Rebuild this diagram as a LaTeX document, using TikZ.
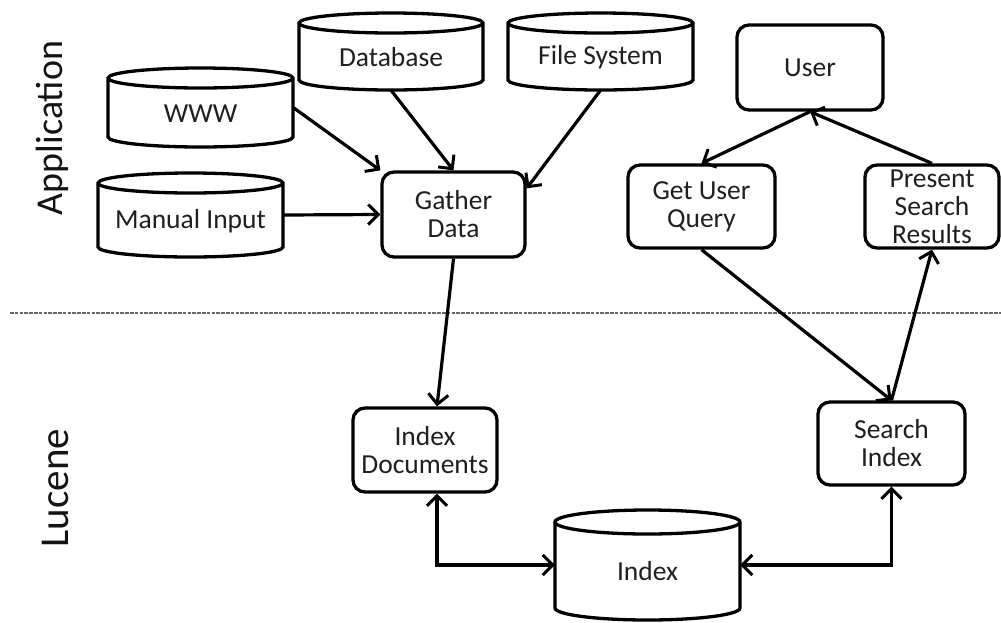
\documentclass[tikz,border=0pt]{standalone}
\usepackage{fontspec}
\setmainfont{Carlito}
\usetikzlibrary{arrows.meta,calc}
\newcommand\cyl[7]{%
  \pgfmathsetmacro\cxa{(#2+#4)/2}%
  \pgfmathsetmacro\cya{(#3+#5)/2}%
  \pgfmathsetmacro\rxa{(#4-#2)/2}%
  \pgfmathsetmacro\wa{#4-#2}%
  \pgfmathsetmacro\ha{#5-#3}%
  \path[cylline] (#2,#3+#6) -- (#2,#5-#6) arc[start angle=180,end angle=0,x radius=\rxa,y radius=#6] -- (#4,#3+#6) arc[start angle=0,end angle=-180,x radius=\rxa,y radius=#6] -- cycle;
  \draw[cylline,fill=none] (#2,#3+#6) arc[start angle=180,end angle=0,x radius=\rxa,y radius=#6];
  \node[inner sep=0pt,minimum width=\wa pt,minimum height=\ha pt] (#1) at (\cxa,\cya) {};
  \node[lbl] (#1-t) at (\cxa,\cya+6) {#7};
}
\begin{document}
\begin{tikzpicture}[x=1pt,y=-1pt,
  lbl/.style={font=\fontsize{27.5}{28}\selectfont,align=center,text=black!88},
  box/.style={draw,line width=3.3pt,rounded corners=12pt,fill=white,inner sep=0pt,lbl},
  cylline/.style={draw,line width=3.3pt,fill=white},
  tip/.style={},
  conn/.style={line width=3.2pt,-{Straight Barb[length=10pt,width=20pt,line width=3pt]}},
  conn2/.style={line width=3.2pt,{Straight Barb[length=10pt,width=20pt,line width=3pt]}-{Straight Barb[length=10pt,width=20pt,line width=3pt]}},
  side/.style={rotate=90,text=black!92},
  sep/.style={draw=black!60,line width=2.4pt,dash pattern=on 3.5pt off 1.3pt}]
\useasboundingbox (0,0) rectangle (1001,622);
\fill[white] (0,0) rectangle (1001,622);
% separator
\coordinate (sepL) at (10,313);
\coordinate (sepR) at (1001,313);
\draw[sep] (sepL) -- (sepR);
% side labels
\node[side,font=\fontsize{38}{40}\selectfont] (app) at (52,128) {Application};
\node[side,font=\fontsize{41}{43}\selectfont] (luc) at (55,488) {Lucene};
% cylinders
\cyl{www}{108}{68}{293}{147}{10}{WWW}
\cyl{db}{299}{13}{483}{90}{10}{Database}
\cyl{fs}{508}{13}{693}{90}{10}{File System}
\cyl{manual}{98}{173}{283}{257}{10}{Manual Input}
\cyl{index}{555}{510}{740}{620}{12}{Index}
% boxes
\node[box,minimum width=143pt,minimum height=85pt] (gather) at (453.5,214.5) {Gather\\Data};
\node[box,minimum width=146pt,minimum height=85pt] (user) at (810,67.5) {User};
\node[box,minimum width=147pt,minimum height=83pt] (gq) at (701.5,206.5) {Get User\\Query};
\node[box,minimum width=134pt,minimum height=83pt] (pr) at (932,206.5) {};
\node[lbl] (pr-t) at (932,207) {Present\\Search\\Results};
\node[box,minimum width=144pt,minimum height=84pt] (idoc) at (425,450) {Index\\Documents};
\node[box,minimum width=147pt,minimum height=83pt] (si) at (891.5,443.5) {Search\\Index};
% connectors
\draw[conn] (www.east) -- (gather.north west);
\draw[conn] (db.south) -- (gather.north);
\draw[conn] (fs.south) -- ([yshift=-18pt]gather.north east);
\draw[conn] (manual.east) -- (gather.west);
\draw[conn] (gather.south) -- ([xshift=12pt]idoc.north);
\draw[conn] (user.south) -- (gq.north);
\draw[conn] (pr.north) -- (user.south);
\draw[conn] (gq.south) -- (si.north);
\draw[conn] (si.north) -- (pr.south);
\draw[conn2] ([xshift=12pt]idoc.south) |- (index.west);
\draw[conn2] (index.east) -| (si.south);
\end{tikzpicture}
\end{document}
